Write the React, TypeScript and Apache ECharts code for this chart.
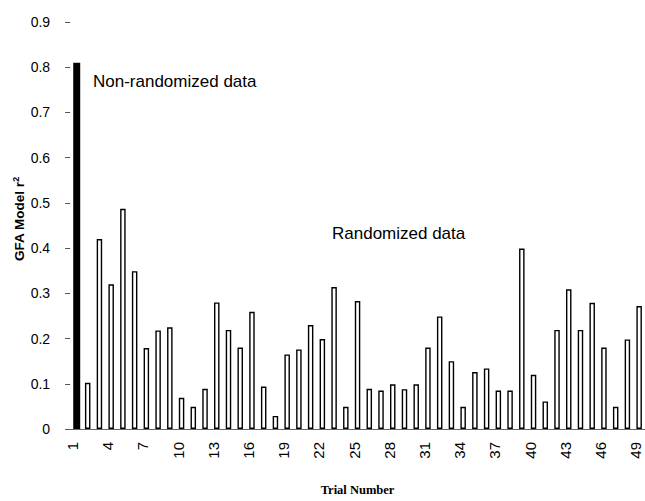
import React, { useEffect, useRef } from "react";
import * as echarts from "echarts";

const trialLabels = [
  "1", "2", "3", "4", "5", "6", "7", "8", "9", "10",
  "11", "12", "13", "14", "15", "16", "17", "18", "19", "20",
  "21", "22", "23", "24", "25", "26", "27", "28", "29", "30",
  "31", "32", "33", "34", "35", "36", "37", "38", "39", "40",
  "41", "42", "43", "44", "45", "46", "47", "48", "49",
];

// r² for each trial; trial 1 is the non-randomized model
const r2Values = [
  0.81, 0.102, 0.42, 0.32, 0.487, 0.349, 0.179, 0.218, 0.225, 0.069,
  0.049, 0.089, 0.28, 0.219, 0.18, 0.259, 0.094, 0.029, 0.165, 0.176,
  0.23, 0.199, 0.314, 0.049, 0.283, 0.089, 0.085, 0.099, 0.088, 0.099,
  0.18, 0.249, 0.15, 0.049, 0.126, 0.134, 0.085, 0.085, 0.399, 0.12,
  0.061, 0.219, 0.309, 0.219, 0.279, 0.18, 0.049, 0.198, 0.272,
];

const nonRandomizedIndex = 0;

const yTicks = { min: 0, max: 0.9, interval: 0.1 };

const annotations = [
  { text: "Non-randomized data" },
  { text: "Randomized data" },
];

const SANS = "'Liberation Sans', Arial, Helvetica, sans-serif";
const SERIF = "'Liberation Serif', 'Times New Roman', serif";

export default function App() {
  const ref = useRef<HTMLDivElement>(null);

  useEffect(() => {
    if (!ref.current) return;
    const chart = echarts.init(ref.current, undefined, { renderer: "svg" });

    const blackData = r2Values.map((v, i) => (i === nonRandomizedIndex ? v : "-"));
    const whiteData = r2Values.map((v, i) => (i === nonRandomizedIndex ? "-" : v));

    chart.setOption({
      animation: false,
      backgroundColor: "#fff",
      grid: { left: 70.1, top: 22, width: 578.2, height: 413.7, containLabel: false },
      xAxis: {
        type: "category",
        data: trialLabels,
        boundaryGap: true,
        name: "Trial Number",
        nameLocation: "middle",
        nameGap: 54,
        nameTextStyle: { fontFamily: SERIF, fontWeight: "bold", fontSize: 12.5, color: "#000" },
        axisLine: { show: true, lineStyle: { color: "#666", width: 1 } },
        axisTick: { show: false },
        axisLabel: {
          interval: 2,
          rotate: 90,
          margin: 13,
          fontFamily: SANS,
          fontSize: 15,
          color: "#000",
          verticalAlign: "bottom",
          lineHeight: 7,
        },
        splitLine: { show: false },
      },
      yAxis: {
        type: "value",
        min: yTicks.min,
        max: yTicks.max,
        interval: yTicks.interval,
        axisLine: { show: false },
        axisTick: { show: true, length: 5, lineStyle: { color: "#555", width: 1 } },
        axisLabel: {
          margin: 20,
          fontFamily: SANS,
          fontSize: 14,
          color: "#000",
          formatter: (v: number) => (v === 0 ? "0" : v.toFixed(1)),
        },
        splitLine: { show: false },
      },
      series: [
        {
          type: "bar",
          data: blackData,
          barWidth: 7,
          barGap: "-100%",
          itemStyle: { color: "#000", borderColor: "#000", borderWidth: 0 },
        },
        {
          type: "bar",
          data: whiteData,
          barWidth: 5.5,
          barGap: "-100%",
          itemStyle: { color: "#fff", borderColor: "#000", borderWidth: 1.4 },
        },
      ],
      graphic: [
        {
          type: "text",
          x: 19.5,
          y: 219,
          rotation: Math.PI / 2,
          style: {
            text: "GFA Model r{sup|2}",
            align: "center",
            verticalAlign: "middle",
            fontFamily: SANS,
            fontWeight: "bold",
            fontSize: 13.5,
            fill: "#000",
            rich: {
              sup: {
                fontFamily: SANS,
                fontWeight: "bold",
                fontSize: 9,
                fill: "#000",
                verticalAlign: "top",
                padding: [0, 0, 7, 0],
              },
            },
          },
        },
        {
          type: "text",
          left: 93,
          top: 73,
          style: { text: annotations[0].text, fontFamily: SANS, fontSize: 17, fill: "#000" },
        },
        {
          type: "text",
          left: 332,
          top: 225,
          style: { text: annotations[1].text, fontFamily: SANS, fontSize: 17, fill: "#000" },
        },
      ],
    });

    return () => chart.dispose();
  }, []);

  return (
    <div
      ref={ref}
      style={{ position: "absolute", left: 0, top: 0, width: 645, height: 501, background: "#fff" }}
    />
  );
}
